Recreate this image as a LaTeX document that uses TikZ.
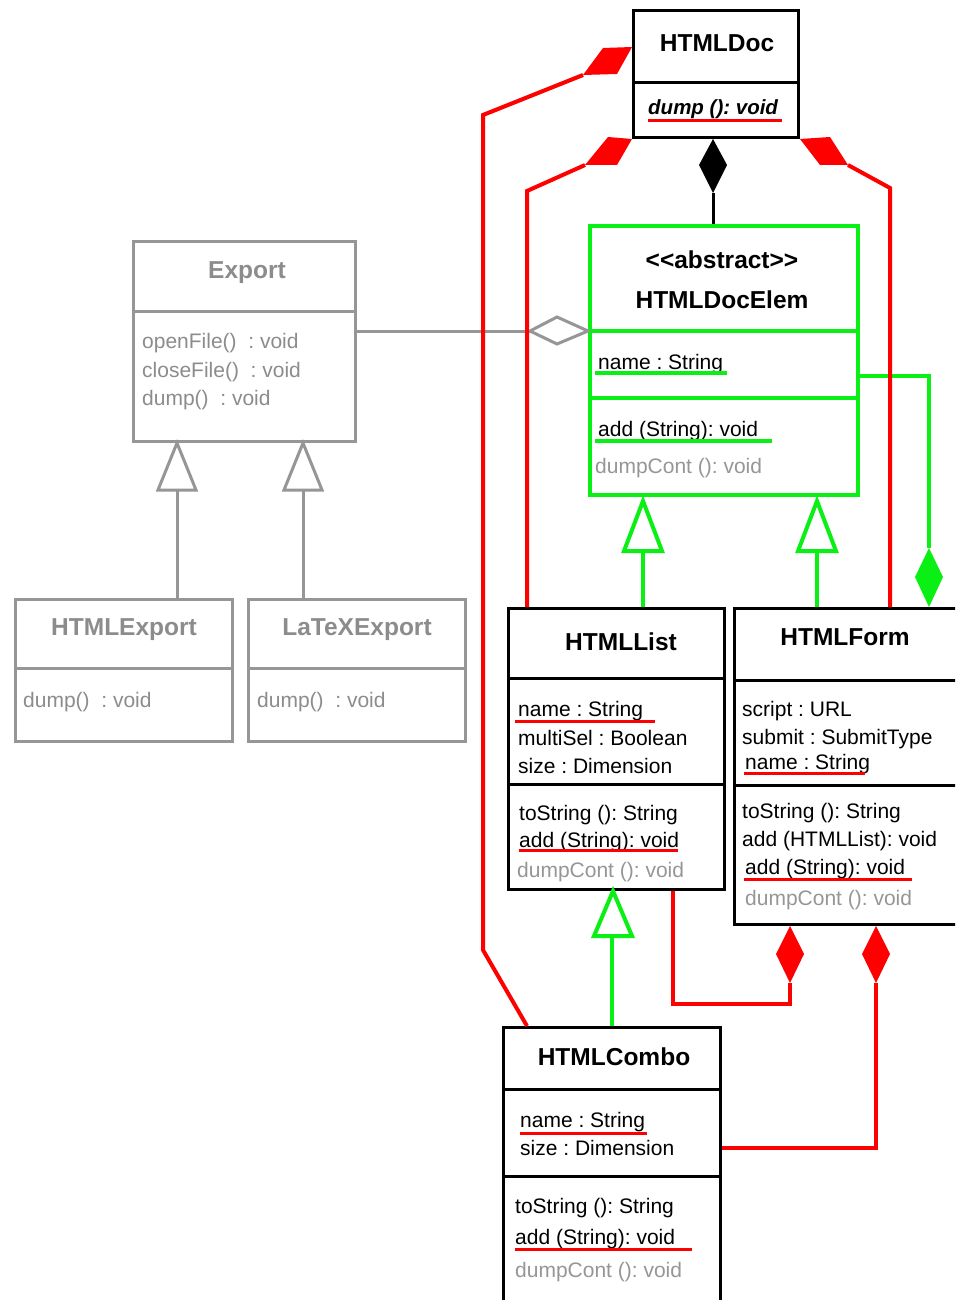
\documentclass[tikz,border=0pt]{standalone}
\usepackage{fontspec}
\setmainfont{Liberation Sans}
\frenchspacing
\definecolor{ured}{RGB}{255,0,0}
\definecolor{ugreen}{RGB}{10,240,20}
\definecolor{ugray}{RGB}{150,150,150}
\definecolor{tgray}{RGB}{140,140,140}
\tikzset{
  box/.style={draw=black, line width=3pt, fill=white, rectangle, inner sep=0pt, anchor=north west},
  gbox/.style={box, draw=ugreen, line width=4pt},
  xbox/.style={box, draw=ugray, line width=3pt},
  txt/.style={inner sep=0pt, anchor=base west, font=\fontsize{21}{25}\selectfont\frenchspacing},
  ttl/.style={inner sep=0pt, anchor=base, font=\fontsize{24.5}{28}\selectfont\bfseries},
  redline/.style={draw=ured, line width=4pt},
  greenline/.style={draw=ugreen, line width=4pt},
  grayline/.style={draw=ugray, line width=3pt},
  blackline/.style={draw=black, line width=3pt},
  rul/.style={draw=ured, line width=3pt},
  gul/.style={draw=ugreen, line width=3.5pt},
  div/.style={line width=3pt},
}
\begin{document}
\begin{tikzpicture}[x=1pt,y=-1pt]
\clip (0,0) rectangle (955,1300);
\fill[white] (0,0) rectangle (955,1300);

% ---------- boxes ----------
\node[box, minimum width=165pt, minimum height=127pt] (doc) at (632,9) {};
\node[gbox, minimum width=268pt, minimum height=269pt] (elem) at (588,224) {};
\node[xbox, minimum width=222pt, minimum height=200pt] (export) at (132,240) {};
\node[xbox, minimum width=217pt, minimum height=142pt] (hexp) at (14,598) {};
\node[xbox, minimum width=217pt, minimum height=142pt] (lexp) at (247,598) {};
\node[box, minimum width=216pt, minimum height=281pt] (list) at (507,607) {};
\node[box, minimum width=240pt, minimum height=316pt] (form) at (733,607) {};
\node[box, minimum width=217pt, minimum height=290pt] (combo) at (502,1026) {};

% ---------- dividers ----------
\draw[div] (doc.west |- 0,83) -- (doc.east |- 0,83);
\draw[div, draw=ugreen, line width=4pt] (elem.west |- 0,331) -- (elem.east |- 0,331);
\draw[div, draw=ugreen, line width=4pt] (elem.west |- 0,398) -- (elem.east |- 0,398);
\draw[div, draw=ugray] (export.west |- 0,311) -- (export.east |- 0,311);
\draw[div, draw=ugray] (hexp.west |- 0,668) -- (hexp.east |- 0,668);
\draw[div, draw=ugray] (lexp.west |- 0,668) -- (lexp.east |- 0,668);
\draw[div] (list.west |- 0,678) -- (list.east |- 0,678);
\draw[div] (list.west |- 0,784) -- (list.east |- 0,784);
\draw[div] (form.west |- 0,680) -- (form.east |- 0,680);
\draw[div] (form.west |- 0,785) -- (form.east |- 0,785);
\draw[div] (combo.west |- 0,1089) -- (combo.east |- 0,1089);
\draw[div] (combo.west |- 0,1176) -- (combo.east |- 0,1176);

% ---------- texts ----------
\node[ttl] (docT) at (717,52) {HTMLDoc};
\node[txt, font=\fontsize{20.5}{25}\selectfont\bfseries\itshape] (docM) at (648,115) {dump (): void};

\node[ttl] (elemS) at (722,268) {<{}<abstract>{}>};
\node[ttl] (elemT) at (722,308) {HTMLDocElem};
\node[txt] (elemA) at (598,369) {name : String};
\node[txt] (elemM1) at (598,436) {add (String): void};
\node[txt, text=ugray] (elemM2) at (595,473) {dumpCont (): void};

\node[ttl, text=tgray] (expT) at (247,278) {Export};
\node[txt, text=tgray] (expM1) at (142,348) {openFile()\ \ : void};
\node[txt, text=tgray] (expM2) at (142,377) {closeFile()\ \ : void};
\node[txt, text=tgray] (expM3) at (142,405) {dump()\ \ : void};

\node[ttl, text=tgray] (hexpT) at (124,635) {HTMLExport};
\node[txt, text=tgray] (hexpM) at (23,707) {dump()\ \ : void};
\node[ttl, text=tgray] (lexpT) at (357,635) {LaTeXExport};
\node[txt, text=tgray] (lexpM) at (257,707) {dump()\ \ : void};

\node[ttl] (listT) at (621,650) {HTMLList};
\node[txt] (listA1) at (518,716) {name : String};
\node[txt] (listA2) at (518,745) {multiSel : Boolean};
\node[txt] (listA3) at (518,773) {size : Dimension};
\node[txt] (listM1) at (519,820) {toString (): String};
\node[txt] (listM2) at (519,847) {add (String): void};
\node[txt, text=ugray] (listM3) at (517,877) {dumpCont (): void};

\node[ttl] (formT) at (845,645) {HTMLForm};
\node[txt] (formA1) at (742,716) {script : URL};
\node[txt] (formA2) at (742,744) {submit : SubmitType};
\node[txt] (formA3) at (745,769) {name : String};
\node[txt] (formM1) at (742,818) {toString (): String};
\node[txt] (formM2) at (742,846) {add (HTMLList): void};
\node[txt] (formM3) at (745,874) {add (String): void};
\node[txt, text=ugray] (formM4) at (745,905) {dumpCont (): void};

\node[ttl] (comboT) at (614,1065) {HTMLCombo};
\node[txt] (comboA1) at (520,1127) {name : String};
\node[txt] (comboA2) at (520,1155) {size : Dimension};
\node[txt] (comboM1) at (515,1213) {toString (): String};
\node[txt] (comboM2) at (515,1244) {add (String): void};
\node[txt, text=ugray] (comboM3) at (515,1277) {dumpCont (): void};

% ---------- underlines ----------
\draw[rul] (648,121) -- (782,121);
\draw[gul] (595,373) -- (727,373);
\draw[gul] (595,441) -- (772,441);
\draw[rul] (515,721) -- (655,721);
\draw[rul] (519,850) -- (678,850);
\draw[rul] (744,773) -- (865,773);
\draw[rul] (744,879) -- (912,879);
\draw[rul] (520,1133) -- (647,1133);
\draw[rul] (515,1249) -- (692,1249);

% ---------- gray connectors ----------
\draw[grayline] (export.east |- 0,331) -- (530,331);
\draw[grayline, fill=white, line join=miter] (530,331) -- (557,317) -- (elem.west |- 0,331) -- (557,344) -- cycle;
\draw[grayline] (177,0 |- hexp.north) -- (177,490);
\draw[grayline, fill=white] (177,443) -- (196,490) -- (158,490) -- cycle;
\draw[grayline] (303,0 |- lexp.north) -- (303,490);
\draw[grayline, fill=white] (303,443) -- (322,490) -- (284,490) -- cycle;

% ---------- green connectors ----------
\draw[greenline] (643,0 |- list.north) -- (643,551);
\draw[greenline, fill=white] (643,501) -- (662,551) -- (624,551) -- cycle;
\draw[greenline] (817,0 |- form.north) -- (817,551);
\draw[greenline, fill=white] (817,501) -- (836,551) -- (798,551) -- cycle;
\draw[greenline] (612,0 |- combo.north) -- (612,936);
\draw[greenline, fill=white] (613,891) -- (632,936) -- (594,936) -- cycle;
\draw[greenline] (elem.east |- 0,376) -- (929,376) -- (929,548);
\fill[ugreen] (929,548) -- (943,577) -- (929,0 |- form.north) -- (915,577) -- cycle;

% ---------- black composition ----------
\fill[black] (713,0 |- doc.south) -- (727,165) -- (713,193) -- (699,165) -- cycle;
\draw[blackline] (713,193) -- (713,0 |- elem.north);

% ---------- red compositions ----------
\fill[ured] (doc.west |- 0,47) -- (603,48) -- (583,75) -- (617,74) -- cycle;
\coordinate (r1) at (583,75);
\draw[redline, line join=miter] (r1) -- (483,115) -- (483,950) -- (527,0 |- combo.north);

\fill[ured] (doc.south west) -- (608,137) -- (585,165) -- (617,165) -- cycle;
\coordinate (r2) at (585,165);
\draw[redline, line join=miter] (r2) -- (527,191) -- (527,0 |- list.north);

\fill[ured] (doc.south east) -- (830,137) -- (848,165) -- (820,165) -- cycle;
\coordinate (r3) at (848,165);
\draw[redline, line join=miter] (r3) -- (890,188) -- (890,0 |- form.north);

\fill[ured] (790,0 |- form.south) -- (804,954) -- (790,983) -- (776,954) -- cycle;
\coordinate (r4) at (790,983);
\draw[redline, line join=miter] (r4) -- (790,1004) -- (673,1004) -- (673,0 |- list.south);

\fill[ured] (876,0 |- form.south) -- (890,954) -- (876,983) -- (862,954) -- cycle;
\coordinate (r5) at (876,983);
\draw[redline, line join=miter] (r5) -- (876,1148) -- (combo.east |- 0,1148);
\end{tikzpicture}
\end{document}
